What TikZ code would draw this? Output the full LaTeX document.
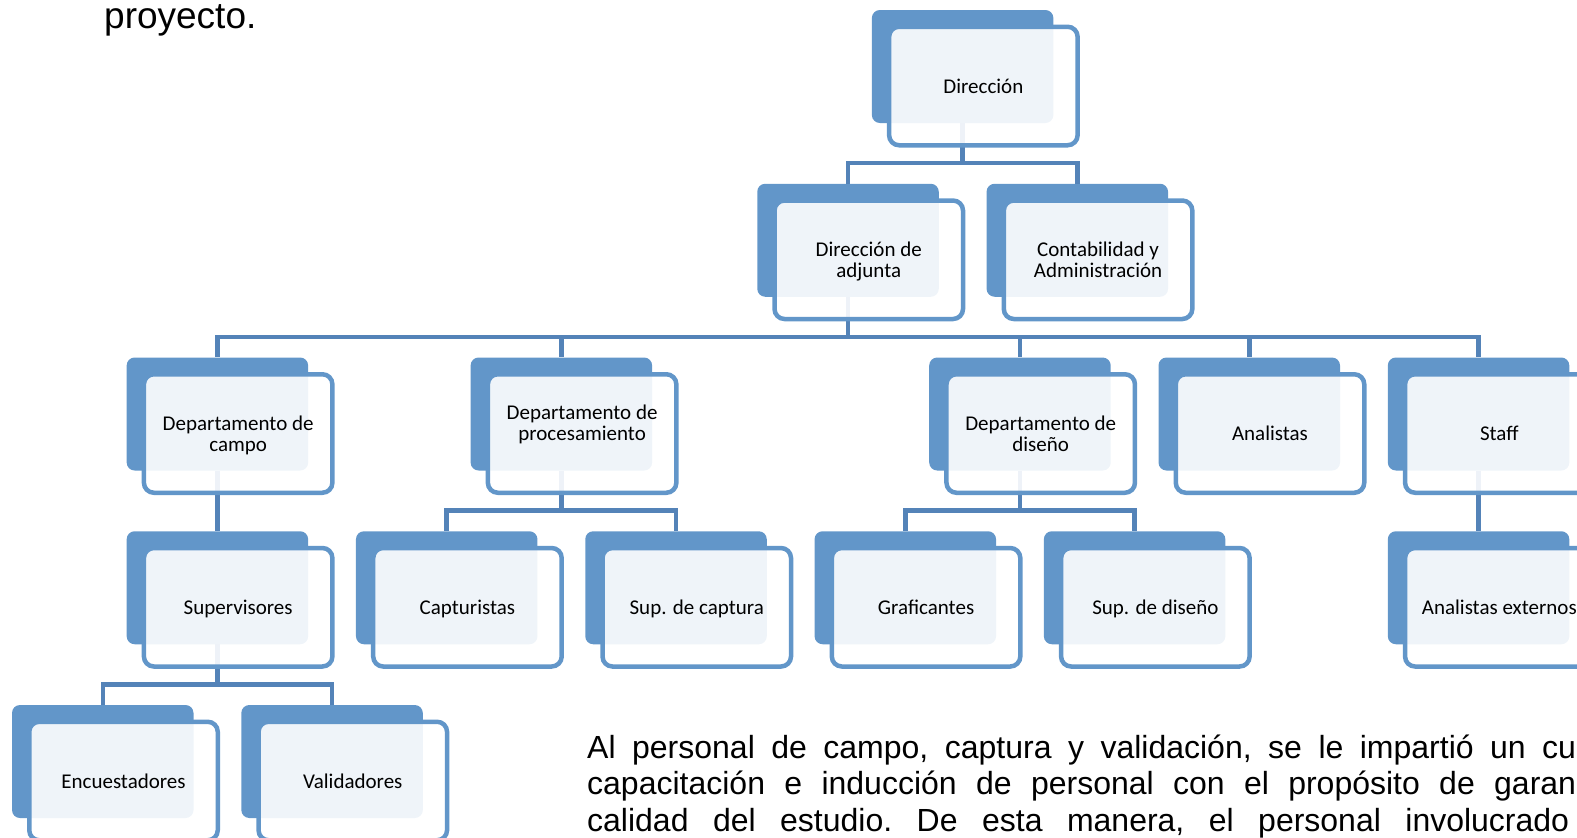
\documentclass[tikz,border=0pt]{standalone}
\usepackage{fontspec}
\setmainfont{Carlito}
\newfontfamily\bodyfont{Liberation Sans}
\usepackage{xcolor}
\definecolor{boxblue}{RGB}{98,150,201}
\definecolor{linkblue}{RGB}{84,131,184}
\newcommand{\frontoff}{20.75,19.5}

\begin{document}
\begin{tikzpicture}[x=1pt,y=-1pt,
  back/.style={fill=boxblue, rounded corners=8pt, inner sep=0pt, minimum width=181.5pt, minimum height=113pt},
  front/.style={draw=boxblue, line width=4.5pt, fill=white, fill opacity=0.9, text opacity=1, rounded corners=10pt, inner sep=2pt, minimum width=188.5pt, minimum height=118.5pt, text depth=0pt, align=center, font=\fontsize{21}{21}\selectfont},
  link/.style={draw=linkblue, line width=4.5pt},
  para/.style={anchor=base west, inner sep=0pt, font=\bodyfont\fontsize{32}{36}\selectfont\frenchspacing}]
%\draw[help lines, color=gray!30, dashed] (0,0) grid[step=50] (1577,838);
\useasboundingbox (0,0) rectangle (1577,838);
\clip (0,0) rectangle (1577,838);
\node[para, font=\bodyfont\fontsize{37}{40}\selectfont] (prev) at (104,28) {proyecto.};
\node[para] (line1) at (587,758) {\makebox[989pt][s]{Al personal de campo, captura y validación, se le impartió un cu}};
\node[para] (line2) at (587,794.5) {\makebox[989pt][s]{capacitación e inducción de personal con el propósito de garan}};
\node[para] (line3) at (587,831) {\makebox[982pt][s]{calidad del estudio. De esta manera, el personal involucrado}};
\node[back] (dir) at (962.6,66.5) {};
\node[back] (adj) at (848,240.25) {};
\node[back] (cont) at (1077.3,240.25) {};
\node[back] (campo) at (217.4,414) {};
\node[back] (proc) at (561.35,414) {};
\node[back] (dise) at (1019.95,414) {};
\node[back] (anal) at (1249.25,414) {};
\node[back] (staff) at (1478.55,414) {};
\node[back] (sup) at (217.4,587.75) {};
\node[back] (capt) at (446.7,587.75) {};
\node[back] (supcap) at (676,587.75) {};
\node[back] (graf) at (905.3,587.75) {};
\node[back] (supdis) at (1134.6,587.75) {};
\node[back] (anext) at (1478.55,587.75) {};
\node[back] (enc) at (102.75,761.5) {};
\node[back] (val) at (332.05,761.5) {};
\draw[link] (dir.south) -- ++(0,40) -| (adj.north);
\draw[link] (dir.south) -- ++(0,40) -| (cont.north);
\draw[link] (adj.south) -- ++(0,40) -| (campo.north);
\draw[link] (adj.south) -- ++(0,40) -| (proc.north);
\draw[link] (adj.south) -- ++(0,40) -| (dise.north);
\draw[link] (adj.south) -- ++(0,40) -| (anal.north);
\draw[link] (adj.south) -- ++(0,40) -| (staff.north);
\draw[link] (campo.south) -- (sup.north);
\draw[link] (proc.south) -- ++(0,40) -| (capt.north);
\draw[link] (proc.south) -- ++(0,40) -| (supcap.north);
\draw[link] (dise.south) -- ++(0,40) -| (graf.north);
\draw[link] (dise.south) -- ++(0,40) -| (supdis.north);
\draw[link] (staff.south) -- (anext.north);
\draw[link] (sup.south) -- ++(0,40) -| (enc.north);
\draw[link] (sup.south) -- ++(0,40) -| (val.north);
\node[front] (dirT) at ([shift={(\frontoff)}]dir.center) {Dirección};
\node[front] (adjT) at ([shift={(\frontoff)}]adj.center) {Dirección de\\adjunta};
\node[front] (contT) at ([shift={(\frontoff)}]cont.center) {Contabilidad y\\Administración};
\node[front] (campoT) at ([shift={(\frontoff)}]campo.center) {Departamento de\\campo};
\node[front] (procT) at ([shift={(\frontoff)}]proc.center) {Departamento de\\procesamiento\\{}};
\node[front] (diseT) at ([shift={(\frontoff)}]dise.center) {Departamento de\\diseño};
\node[front] (analT) at ([shift={(\frontoff)}]anal.center) {Analistas};
\node[front] (staffT) at ([shift={(\frontoff)}]staff.center) {Staff};
\node[front] (supT) at ([shift={(\frontoff)}]sup.center) {Supervisores};
\node[front] (captT) at ([shift={(\frontoff)}]capt.center) {Capturistas};
\node[front] (supcapT) at ([shift={(\frontoff)}]supcap.center) {Sup. de captura};
\node[front] (grafT) at ([shift={(\frontoff)}]graf.center) {Graficantes};
\node[front] (supdisT) at ([shift={(\frontoff)}]supdis.center) {Sup. de diseño};
\node[front] (anextT) at ([shift={(\frontoff)}]anext.center) {Analistas externos};
\node[front] (encT) at ([shift={(\frontoff)}]enc.center) {Encuestadores};
\node[front] (valT) at ([shift={(\frontoff)}]val.center) {Validadores};
\end{tikzpicture}
\end{document}
